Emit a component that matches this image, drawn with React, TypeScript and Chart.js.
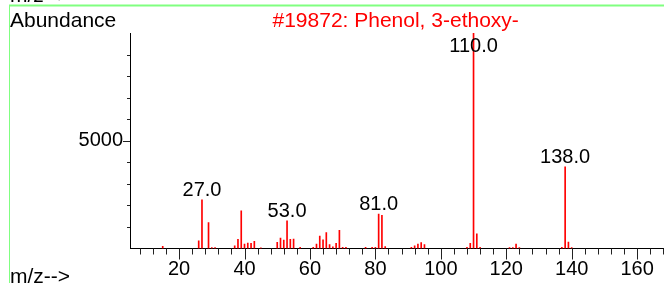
import React, { useEffect, useRef } from 'react';
import { Chart, registerables } from 'chart.js';

Chart.register(...registerables);

// ---- data ----
const mz = [
  15, 26, 27, 29, 30, 31, 37, 38, 39, 40, 41, 42, 43, 45, 50, 51, 52, 53, 54, 55, 57,
  61, 62, 63, 64, 65, 66, 67, 68, 69, 70, 71, 77, 79, 80, 81, 82, 83,
  91, 92, 93, 94, 95, 108, 109, 110, 111, 112, 121, 122, 123, 124, 137, 138, 139, 140,
];
const abundance = [
  100, 360, 2255, 1200, 40, 40, 120, 420, 1750, 200, 250, 240, 330, 30, 290, 480, 390, 1280, 430, 440, 50,
  50, 210, 580, 400, 735, 180, 80, 240, 845, 50, 50, 60, 60, 60, 1600, 1540, 90,
  60, 120, 210, 270, 180, 60, 240, 9999, 675, 60, 40, 40, 210, 40, 60, 3790, 300, 40,
];
const labeledPeaks = [27, 53, 81, 110, 138];
const xTickLabels = [20, 40, 60, 80, 100, 120, 140, 160];
const xMinorTicks = [8, 12, 16, 24, 28, 32, 36, 44, 48, 52, 56, 64, 68, 72, 76, 84, 88, 92, 96, 104, 108, 112, 116, 124, 128, 132, 136, 144, 148, 152, 156, 164, 168];
const yTickLabels = [5000];
const yMinorTicks = [1000, 2000, 3000, 4000, 6000, 7000, 8000, 9000];
const titleText = '#19872: Phenol, 3-ethoxy-';
const yAxisTitle = 'Abundance';
const xAxisTitle = 'm/z-->';

const FONT = '"Liberation Sans", Arial, Helvetica, sans-serif';

const decorPlugin = {
  id: 'decor',
  beforeDraw(chart: any) {
    const ctx = chart.ctx;
    ctx.save();
    ctx.strokeStyle = '#80ff80';
    ctx.lineWidth = 2;
    ctx.beginPath();
    ctx.moveTo(9, 5.5);
    ctx.lineTo(664, 5.5);
    ctx.stroke();
    ctx.lineWidth = 1;
    ctx.beginPath();
    ctx.moveTo(9.5, 5);
    ctx.lineTo(9.5, 283);
    ctx.stroke();
    ctx.restore();
  },
  afterDraw(chart: any) {
    const ctx = chart.ctx;
    const xs = chart.scales.x;
    const ys = chart.scales.y;
    const area = chart.chartArea;
    ctx.save();
    // ticks
    ctx.strokeStyle = '#222';
    ctx.lineWidth = 1;
    ctx.beginPath();
    xTickLabels.forEach((v) => {
      const px = Math.round(xs.getPixelForValue(v)) + 0.5;
      ctx.moveTo(px, area.bottom);
      ctx.lineTo(px, area.bottom + 11);
    });
    xMinorTicks.forEach((v) => {
      const px = Math.round(xs.getPixelForValue(v)) + 0.5;
      ctx.moveTo(px, area.bottom);
      ctx.lineTo(px, area.bottom + 6);
    });
    yTickLabels.forEach((v) => {
      const py = Math.round(ys.getPixelForValue(v)) + 0.5;
      ctx.moveTo(area.left, py);
      ctx.lineTo(area.left - 7, py);
    });
    yMinorTicks.forEach((v) => {
      const py = Math.round(ys.getPixelForValue(v)) + 0.5;
      ctx.moveTo(area.left, py);
      ctx.lineTo(area.left - 3, py);
    });
    ctx.stroke();

    // peak labels
    ctx.fillStyle = '#000';
    ctx.font = `20px ${FONT}`;
    ctx.textAlign = 'center';
    ctx.textBaseline = 'alphabetic';
    labeledPeaks.forEach((m) => {
      const i = mz.indexOf(m);
      const px = xs.getPixelForValue(m);
      const py = ys.getPixelForValue(abundance[i]);
      const base = Math.max(py - 4, area.top + 19);
      ctx.fillText(m.toFixed(1), px, base);
    });

    // title
    ctx.fillStyle = '#ff0000';
    ctx.font = `21px ${FONT}`;
    ctx.textAlign = 'center';
    ctx.fillText(titleText, (area.left + area.right) / 2 - 1, 26.5);

    // axis titles
    ctx.fillStyle = '#000';
    ctx.textAlign = 'left';
    ctx.fillText(yAxisTitle, 10, 26.5);
    ctx.fillText(xAxisTitle, 10, 283);
    ctx.fillText(xAxisTitle, 10, 1.5);
    ctx.restore();
  },
};

export default function App() {
  const ref = useRef<HTMLCanvasElement | null>(null);
  useEffect(() => {
    if (!ref.current) return;
    const chart = new Chart(ref.current, {
      type: 'bar',
      data: {
        datasets: [
          {
            data: mz.map((m, i) => ({ x: m, y: abundance[i] })),
            backgroundColor: '#ff0000',
            borderWidth: 0,
            barThickness: 1,
            grouped: false,
          } as any,
        ],
      },
      options: {
        responsive: false,
        animation: false,
        events: [],
        layout: { padding: { top: 33, right: 0.7, left: 0, bottom: 0 } },
        plugins: {
          legend: { display: false },
          tooltip: { enabled: false },
          title: { display: false },
        },
        scales: {
          x: {
            type: 'linear',
            min: 5,
            max: 168,
            offset: false,
            grid: { display: false, drawTicks: false },
            border: { display: true, color: '#000', width: 1 },
            afterBuildTicks: (s: any) => {
              s.ticks = xTickLabels.map((v) => ({ value: v }));
            },
            afterFit: (s: any) => {
              s.height = 34.5;
            },
            ticks: {
              padding: 9,
              color: '#000',
              autoSkip: false,
              maxRotation: 0,
              font: { family: FONT, size: 20 },
              callback: (v: any) => String(v),
            },
          },
          y: {
            type: 'linear',
            min: 0,
            max: 10000,
            grid: { display: false, drawTicks: false },
            border: { display: true, color: '#000', width: 1 },
            afterBuildTicks: (s: any) => {
              s.ticks = yTickLabels.map((v) => ({ value: v }));
            },
            afterFit: (s: any) => {
              s.width = 130;
            },
            ticks: {
              padding: 7,
              color: '#000',
              font: { family: FONT, size: 20 },
              callback: (v: any) => String(v),
            },
          },
        },
      } as any,
      plugins: [decorPlugin],
    });
    return () => chart.destroy();
  }, []);
  return (
    <div style={{ position: 'fixed', left: 0, top: 0, width: 664, height: 283, background: '#fff' }}>
      <canvas ref={ref} width={664} height={283} style={{ display: 'block', width: 664, height: 283 }} />
    </div>
  );
}
